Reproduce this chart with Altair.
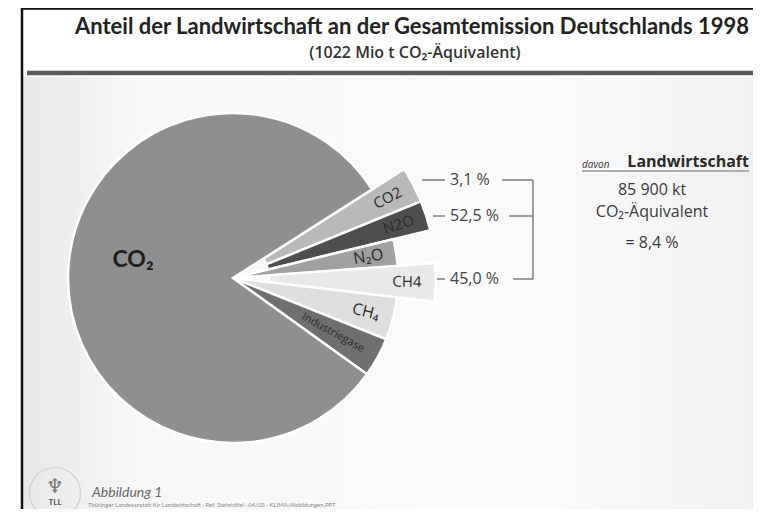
import math
import altair as alt
import pandas as pd

# ---- data ----
slice_keys = ["CO2 LW", "N2O LW", "N2O", "CH4 LW", "CH4", "Industriegase", "CO2"]
slice_labels = ["CO2", "N2O", "N₂O", "CH4", "CH₄", "Industriegase", "CO₂"]
landwirtschaft = [True, True, False, True, False, False, False]
share_pct = [2.86, 2.39, 2.61, 3.03, 4.19, 3.86, 81.06]
slice_colors = ["#b9b9b9", "#4e4e4e", "#a0a0a0", "#e9e9e9", "#dedede", "#6f6f6f", "#8f8f8f"]

agri_gas = ["CO₂", "N₂O", "CH₄"]
agri_pct = ["3,1 %", "52,5 %", "45,0 %"]

title_text = "Anteil der Landwirtschaft an der Gesamtemission Deutschlands 1998"
subtitle_text = "(1022 Mio t CO₂-Äquivalent)"
side_lines = ["85 900 kt", "CO₂-Äquivalent", "= 8,4 %"]

# ---- layout constants ----
W, H = 745, 501
CX, CY = 225, 270
R_MAIN, R_EXPL, R_INNER_EXPL = 165, 203, 36
START_DEG = 57.5  # clockwise from 12 o'clock
a0 = math.radians(START_DEG)
ts = alt.Scale(domain=[0, 100], range=[a0, a0 + 2 * math.pi])
SANS = "Open Sans"

rows = []
cum = 0.0
for k, lab, lw, s in zip(slice_keys, slice_labels, landwirtschaft, share_pct):
    start, end = cum, cum + s
    cum = end
    mid = (start + end) / 2
    vdeg = START_DEG + 3.6 * mid
    rot = (vdeg - 90) % 360
    if k == "CO2":
        rot = 0
    if lw:
        r, r2, lr, fs = R_EXPL, R_INNER_EXPL, 174, 15
    elif k == "Industriegase":
        r, r2, lr, fs = R_MAIN, 0, 114, 11
    else:
        r, r2, lr, fs = R_MAIN, 0, 137, 16
    rows.append(dict(key=k, label=lab, share=s, start=start, end=end, mid=mid,
                     rot=rot, r=r, r2=r2, lab_r=lr, fs=fs))
df = pd.DataFrame(rows)

base = alt.Chart(df)

arcs = base.mark_arc(stroke="white", strokeWidth=2.5).encode(
    theta=alt.Theta("start:Q", scale=ts),
    theta2=alt.Theta2("end:Q"),
    radius=alt.Radius("r:Q", scale=None),
    radius2=alt.Radius2("r2:Q"),
    x=alt.value(CX), y=alt.value(CY),
    color=alt.Color("key:N", scale=alt.Scale(domain=slice_keys, range=slice_colors), legend=None),
)

small_labels = base.transform_filter(alt.datum.key != "CO2").mark_text(
    font=SANS, color="#2b2b2b", align="center", baseline="middle"
).encode(
    theta=alt.Theta("mid:Q", scale=ts, stack=False),
    radius=alt.Radius("lab_r:Q", scale=None),
    x=alt.value(CX), y=alt.value(CY),
    angle=alt.Angle("rot:Q", scale=None),
    size=alt.Size("fs:Q", scale=None),
    text="label:N",
)

main_label = base.transform_filter(alt.datum.key == "CO2").mark_text(
    font="Lato", fontWeight="bold", fontSize=23, color="#1e1e1e", dy=-15
).encode(
    theta=alt.Theta("mid:Q", scale=ts, stack=False),
    radius=alt.value(100),
    x=alt.value(CX), y=alt.value(CY),
    text="label:N",
)

# background panel (gradient) below separator
bg = alt.Chart(pd.DataFrame({"a": [0]})).mark_rect(
    color=alt.LinearGradient(gradient="linear", x1=0, x2=1, y1=0, y2=0, stops=[
        alt.GradientStop(color="#e8e8e8", offset=0),
        alt.GradientStop(color="#f7f7f7", offset=0.15),
        alt.GradientStop(color="#fbfbfb", offset=0.7),
        alt.GradientStop(color="#f1f1f1", offset=1),
    ])
).encode(x=alt.value(15), x2=alt.value(W), y=alt.value(69), y2=alt.value(H))

# frame lines
frame_df = pd.DataFrame({
    "x": [14, 14, 19], "x2": [14, W, W], "y": [0, 0.5, 65], "y2": [H, 0.5, 65],
    "w": [2.5, 2.5, 4.5], "c": ["#111111", "#111111", "#5a5a5a"],
})
frame = alt.Chart(frame_df).mark_rule().encode(
    x=alt.X("x:Q", scale=None), x2="x2:Q", y=alt.Y("y:Q", scale=None), y2="y2:Q",
    strokeWidth=alt.StrokeWidth("w:Q", scale=None),
    color=alt.Color("c:N", scale=None),
)

title = alt.Chart(pd.DataFrame({"t": [title_text]})).mark_text(
    font="Lato", fontWeight="bold", fontSize=22, color="#222222", align="center", baseline="middle"
).encode(x=alt.value(404), y=alt.value(19), text="t:N")

subtitle = alt.Chart(pd.DataFrame({"t": [subtitle_text]})).mark_text(
    font=SANS, fontWeight=600, fontSize=16, color="#333333", align="center", baseline="middle"
).encode(x=alt.value(407), y=alt.value(45), text="t:N")

# leader lines and bracket
ys = [172, 208, 271]
lead_df = pd.DataFrame({
    "x": [414, 425, 429, 494, 501, 505, 525],
    "x2": [437, 437, 437, 525, 525, 525, 525],
    "y": ys + ys + [ys[0]],
    "y2": ys + ys + [ys[2]],
})
leaders = alt.Chart(lead_df).mark_rule(color="#6a6a6a", strokeWidth=1.3).encode(
    x=alt.X("x:Q", scale=None), x2="x2:Q", y=alt.Y("y:Q", scale=None), y2="y2:Q"
)
pct_df = pd.DataFrame({"gas": agri_gas, "pct": agri_pct, "y": ys})
pcts = alt.Chart(pct_df).mark_text(
    font=SANS, fontSize=16, color="#444444", align="left", baseline="middle"
).encode(x=alt.value(442), y=alt.Y("y:Q", scale=None), text="pct:N")

# right side text block
davon = alt.Chart(pd.DataFrame({"t": ["davon"]})).mark_text(
    font=SANS, fontStyle="italic", fontSize=10, color="#333333", align="left", baseline="middle"
).encode(x=alt.value(574), y=alt.value(157), text="t:N")
lw_title = alt.Chart(pd.DataFrame({"t": ["Landwirtschaft"]})).mark_text(
    font=SANS, fontWeight="bold", fontSize=16, color="#2a2a2a", align="right", baseline="middle"
).encode(x=alt.value(741), y=alt.value(154), text="t:N")
underline = alt.Chart(pd.DataFrame({"a": [0]})).mark_rule(color="#666666", strokeWidth=1).encode(
    x=alt.value(574), x2=alt.value(741), y=alt.value(163)
)
side_df = pd.DataFrame({"t": side_lines, "y": [182, 204, 235]})
side = alt.Chart(side_df).mark_text(
    font=SANS, fontSize=16, color="#3a3a3a", align="center", baseline="middle"
).encode(x=alt.value(644), y=alt.Y("y:Q", scale=None), text="t:N")

# footer
logo = alt.Chart(pd.DataFrame({"a": [0]})).mark_point(
    shape="circle", size=2600, stroke="#c8c8c8", strokeWidth=1.2, filled=False
).encode(x=alt.value(47), y=alt.value(485))
logo_txt = alt.Chart(pd.DataFrame({"t": ["TLL"]})).mark_text(
    font="Lato", fontWeight="bold", fontSize=8, color="#555555"
).encode(x=alt.value(47), y=alt.value(495), text="t:N")
logo_fig = alt.Chart(pd.DataFrame({"t": ["♆"]})).mark_text(
    font="DejaVu Sans", fontSize=20, color="#777777"
).encode(x=alt.value(47), y=alt.value(479), text="t:N")
abb = alt.Chart(pd.DataFrame({"t": ["Abbildung 1"]})).mark_text(
    font="Lato", fontStyle="italic", fontSize=14, color="#666666", align="left", baseline="middle"
).encode(x=alt.value(84), y=alt.value(485), text="t:N")
foot = alt.Chart(pd.DataFrame({"t": ["Thüringer Landesanstalt für Landwirtschaft · Ref. Steinhöfel · 04/03 · KLIMA/Abbildungen.PPT"]})).mark_text(
    font="Lato", fontSize=6, color="#888888", align="left", baseline="middle"
).encode(x=alt.value(80), y=alt.value(497), text="t:N")

chart = alt.layer(
    bg, frame, title, subtitle, arcs, small_labels, main_label,
    leaders, pcts, davon, lw_title, underline, side,
    logo, logo_fig, logo_txt, abb, foot,
).resolve_scale(theta="shared").properties(
    width=W, height=H, padding=0, autosize="none", background="white"
).configure_view(stroke=None)

chart.save("out.html", embed_options={"renderer": "svg", "actions": False})
